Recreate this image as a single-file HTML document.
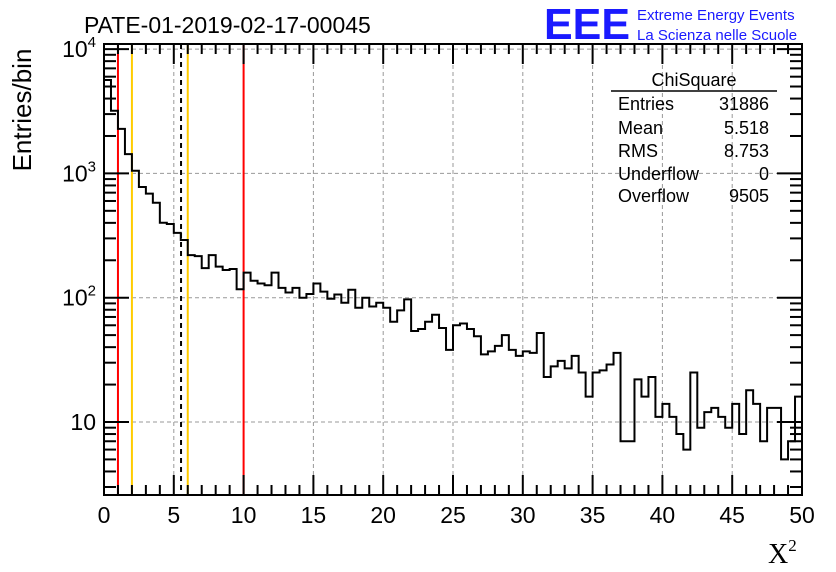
<!DOCTYPE html>
<html><head><meta charset="utf-8"><style>
body{margin:0;background:#fff;}
svg{display:block;font-family:"Liberation Sans",sans-serif;}
</style></head><body>
<svg id="c" width="836" height="572" xmlns="http://www.w3.org/2000/svg">
<rect width="836" height="572" fill="#fff"/>
<text x="84" y="33" font-size="23">PATE-01-2019-02-17-00045</text>
<text x="544" y="39" font-size="44" font-weight="bold" fill="#1a1aff" textLength="86" lengthAdjust="spacingAndGlyphs">EEE</text>
<text x="637" y="20" font-size="15" fill="#1a1aff">Extreme Energy Events</text>
<text x="637" y="40" font-size="15" fill="#1a1aff">La Scienza nelle Scuole</text>
<text transform="translate(31,110) rotate(-90)" font-size="26" text-anchor="middle">Entries/bin</text>
<text x="768" y="563" font-size="28" font-family="Liberation Serif,serif">X<tspan font-size="17" dy="-12">2</tspan></text>
<g id="grid"></g><g id="vl"></g><g id="hist"></g><g id="axes"></g>
<g>
<text x="694" y="86" font-size="18" text-anchor="middle">ChiSquare</text>
<line x1="611" y1="91" x2="777" y2="91" stroke="#000" stroke-width="1.5"/>
<g font-size="18">
<text x="618" y="110">Entries</text><text x="769" y="110" text-anchor="end">31886</text>
<text x="618" y="134">Mean</text><text x="769" y="134" text-anchor="end">5.518</text>
<text x="618" y="157">RMS</text><text x="769" y="157" text-anchor="end">8.753</text>
<text x="618" y="180">Underflow</text><text x="769" y="180" text-anchor="end">0</text>
<text x="618" y="202">Overflow</text><text x="769" y="202" text-anchor="end">9505</text>
</g></g>
</svg>
<script>
const counts=[5640,3190,2280,1430,1050,778,687,581,401,392,332,291,220,216,173,220,178,167,170,117,159,137,130,126,159,120,110,120,100,107,130,112,98,106,91,116,83,100,85,91,83,64,79,97,54,56,64,73,57,38,60,62,56,49,35,37,41,50,38,34,37,36,52,23,28,31,27,34,25,16,25,26,29,36,7,7,22,16,23,11,14,11,8,6,25,9,12,13,11,9,14,8,18,14,7,13,13,5,7,16];
const binWidth=0.5;
const xTicks=[0,5,10,15,20,25,30,35,40,45,50];
const yDecades=[10,100,1000,10000];
const yDecadeLabels=["10","10^2","10^3","10^4"];
const vLines=[{x:1,c:"#ff0000",d:""},{x:2,c:"#ffcc00",d:""},{x:5.518,c:"#000",d:"5,4"},{x:6,c:"#ffcc00",d:""},{x:10,c:"#ff0000",d:""}];
const L=104,R=802,T=44,B=495,xMax=50;
const pxDec=124.3;
const X=v=>L+v/xMax*(R-L);
const Y=v=>422-(Math.log10(v)-1)*pxDec;
const NS="http://www.w3.org/2000/svg";
function mk(tag,a,p){const e=document.createElementNS(NS,tag);for(const k in a)e.setAttribute(k,a[k]);document.getElementById(p).appendChild(e);return e;}
xTicks.forEach(t=>{if(t>0&&t<xMax){const g=mk("line",{x1:X(t),x2:X(t),y1:T,y2:B,stroke:"#999","stroke-dasharray":"4,3"},"grid");

}});
yDecades.forEach(d=>{if(Y(d)>T+2){const g=mk("line",{x1:L,x2:R,y1:Y(d),y2:Y(d),stroke:"#999","stroke-dasharray":"4,3"},"grid");

}});
vLines.forEach(v=>{const a={x1:X(v.x),x2:X(v.x),y1:T,y2:B,stroke:v.c,"stroke-width":2};if(v.d)a["stroke-dasharray"]=v.d;const l=mk("line",a,"vl");

});
let d="M"+L+","+B;
counts.forEach((c,i)=>{const y=Math.min(B,Y(c));d+=" L"+X(i*binWidth)+","+y+" L"+X((i+1)*binWidth)+","+y;});
d+=" L"+R+","+B;
const h=mk("path",{d:d,fill:"none",stroke:"#000","stroke-width":2},"hist");


const f=mk("rect",{x:L,y:T,width:R-L,height:B-T,fill:"none",stroke:"#000","stroke-width":2},"axes");


for(let v=0;v<=xMax;v++){const maj=v%5===0;const len=maj?20:10;
mk("line",{x1:X(v),x2:X(v),y1:B,y2:B-len,stroke:"#000","stroke-width":2},"axes");
mk("line",{x1:X(v),x2:X(v),y1:T,y2:T+len,stroke:"#000","stroke-width":2},"axes");}
xTicks.forEach(t=>{const tx=mk("text",{x:X(t),y:523,"font-size":23,"text-anchor":"middle"},"axes");tx.textContent=t;

});
for(let dec=1;dec<=10000;dec*=10){for(let m=1;m<10;m++){const v=dec*m;const y=Y(v);if(y<T||y>B)continue;const len=m===1?25:12;
mk("line",{x1:L,x2:L+len,y1:y,y2:y,stroke:"#000","stroke-width":2},"axes");
mk("line",{x1:R,x2:R-len,y1:y,y2:y,stroke:"#000","stroke-width":2},"axes");}}
yDecades.forEach((dv,i)=>{const y=Y(dv);const s=yDecadeLabels[i];const tx=mk("text",{x:96,y:y+8,"font-size":23,"text-anchor":"end"},"axes");
if(s.indexOf("^")>0){const p=s.split("^");tx.textContent=p[0];const ts=document.createElementNS(NS,"tspan");ts.setAttribute("font-size","15");ts.setAttribute("dy","-10");ts.textContent=p[1];tx.appendChild(ts);}
else tx.textContent=s;

});
</script>
</body></html>
